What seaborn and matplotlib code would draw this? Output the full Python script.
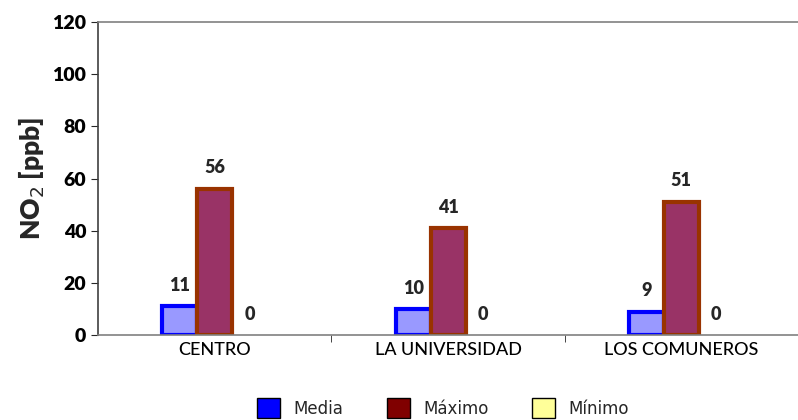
import pandas as pd
import matplotlib.pyplot as plt
import seaborn as sns
from matplotlib.patches import Patch

# Data
stations = ["CENTRO", "LA UNIVERSIDAD", "LOS COMUNEROS"]
media = [11, 10, 9]
maximo = [56, 41, 51]
minimo = [0, 0, 0]
series = ["Media", "Máximo", "Mínimo"]

df = pd.DataFrame({
    "station": stations * 3,
    "serie": ["Media"] * 3 + ["Máximo"] * 3 + ["Mínimo"] * 3,
    "value": media + maximo + minimo,
})

face = {"Media": "#9999FF", "Máximo": "#993366", "Mínimo": "#FFFF99"}
edge = {"Media": "#0000FF", "Máximo": "#993300", "Mínimo": "#FFFF99"}
legend_face = {"Media": "#0000FF", "Máximo": "#800000", "Mínimo": "#FFFF99"}

sns.set_style("white")
plt.rcParams["font.family"] = ["Lato", "DejaVu Sans"]

fig = plt.figure(figsize=(7.98, 4.2), dpi=100)
ax = fig.add_axes([0.123, 0.202, 0.877, 0.746])

sns.barplot(data=df, x="station", y="value", hue="serie", hue_order=series,
            palette=face, width=0.45, ax=ax, legend=False, saturation=1)

for container, name in zip(ax.containers, series):
    for bar, val in zip(container, df[df["serie"] == name]["value"]):
        bar.set_edgecolor(edge[name])
        bar.set_linewidth(3 if val > 0 else 0)
        ax.annotate(f"{val}", (bar.get_x() + bar.get_width() / 2, val),
                    xytext=(0, 9), textcoords="offset points",
                    ha="center", va="bottom", fontsize=13, fontweight="heavy")

ax.set_ylim(0, 120)
ax.set_yticks(range(0, 121, 20))
ax.set_xlim(-0.5, 2.5)
ax.set_xlabel("")
ax.set_ylabel("NO$_2$ [ppb]", fontsize=19, fontweight="heavy", labelpad=4)
ax.tick_params(axis="y", labelsize=14, length=5, direction="out", left=True,
               labelcolor="black")
ax.tick_params(axis="x", labelsize=13, length=0, pad=5, labelcolor="black")
for lbl in ax.get_yticklabels():
    lbl.set_fontweight("heavy")
for lbl in ax.get_xticklabels():
    lbl.set_fontweight("medium")

# tick marks between category groups
ax.set_xticks([0.5, 1.5], minor=True)
ax.tick_params(axis="x", which="minor", length=5, bottom=True, direction="out")

ax.spines["right"].set_visible(False)
ax.spines["top"].set_color("#808080")
ax.spines["bottom"].set_color("#808080")
ax.spines["left"].set_color("#404040")
for s in ax.spines.values():
    s.set_linewidth(1.2)

handles = [Patch(facecolor=legend_face[s], edgecolor="black", label=s) for s in series]
fig.legend(handles=handles, loc="lower center", bbox_to_anchor=(0.555, -0.03),
           ncol=3, frameon=False, prop={"family": "DejaVu Sans", "size": 12},
           handlelength=1.4, handleheight=1.4, columnspacing=2.6,
           handletextpad=0.8)

fig.savefig("out.png", dpi=100)
